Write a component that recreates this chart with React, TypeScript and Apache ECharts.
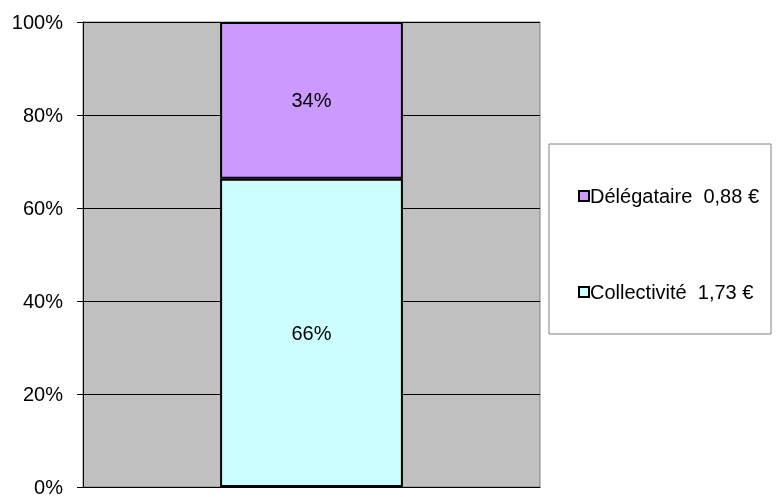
import React, { useEffect, useRef } from "react";
import * as echarts from "echarts";

const categories = [""];
const seriesNames = ["Collectivité", "Délégataire"];
const seriesEuros = [1.73, 0.88];
const seriesColors = ["#CCFFFF", "#CC99FF"];
const yTicks = [0, 20, 40, 60, 80, 100];

export default function App() {
  const ref = useRef<HTMLDivElement>(null);
  useEffect(() => {
    if (!ref.current) return;
    const chart = echarts.init(ref.current, null, { renderer: "svg" });
    const total = seriesEuros.reduce((a, b) => a + b, 0);
    const font = "Liberation Sans, Arial, sans-serif";
    const fs = 20;
    chart.setOption({
      animation: false,
      textStyle: { fontFamily: font },
      grid: {
        left: 83,
        top: 22,
        width: 457,
        height: 465,
        show: true,
        backgroundColor: "#C0C0C0",
        borderColor: "#808080",
        borderWidth: 1,
      },
      graphic: [
        {
          type: "rect",
          shape: { x: 549, y: 144, width: 222, height: 190 },
          style: { fill: "#fff", stroke: "#808080", lineWidth: 1 },
          z: 0,
        },
      ],
      legend: {
        orient: "vertical",
        left: 573,
        top: 180,
        itemGap: 74,
        icon: "rect",
        itemWidth: 10,
        itemHeight: 10,
        data: [seriesNames[1], seriesNames[0]],
        itemStyle: { borderColor: "#000", borderWidth: 2 },
        textStyle: {
          fontSize: fs,
          lineHeight: 22,
          color: "#000",
          fontFamily: font,
          padding: [0, 0, 0, -4],
        },
        formatter: (name: string) => {
          const i = seriesNames.indexOf(name);
          return name + "  " + seriesEuros[i].toFixed(2).replace(".", ",") + " €";
        },
      },
      xAxis: {
        type: "category",
        data: categories,
        axisLine: { show: true, lineStyle: { color: "#000", width: 1 } },
        axisTick: { show: false },
        axisLabel: { show: false },
      },
      yAxis: {
        type: "value",
        min: 0,
        max: 100,
        interval: 20,
        axisLine: { show: true, lineStyle: { color: "#000", width: 1 } },
        axisTick: { show: true, length: 6, lineStyle: { color: "#000" } },
        axisLabel: {
          fontSize: fs,
          color: "#000",
          fontFamily: font,
          margin: 20,
          formatter: (v: number) => (yTicks.includes(v) ? v + "%" : ""),
        },
        splitLine: { show: true, lineStyle: { color: "#000", width: 1 } },
      },
      series: seriesNames.map((name, i) => ({
        name,
        type: "bar",
        stack: "total",
        barWidth: "40%",
        data: [(seriesEuros[i] / total) * 100],
        itemStyle: { color: seriesColors[i], borderColor: "#000", borderWidth: 2 },
        label: {
          show: true,
          position: "inside",
          fontSize: fs,
          color: "#000",
          fontFamily: font,
          formatter: (p: any) => Math.round(p.value) + "%",
        },
      })),
    });
    return () => chart.dispose();
  }, []);
  return (
    <div
      ref={ref}
      style={{ position: "fixed", left: 0, top: 0, width: 778, height: 497 }}
    />
  );
}
